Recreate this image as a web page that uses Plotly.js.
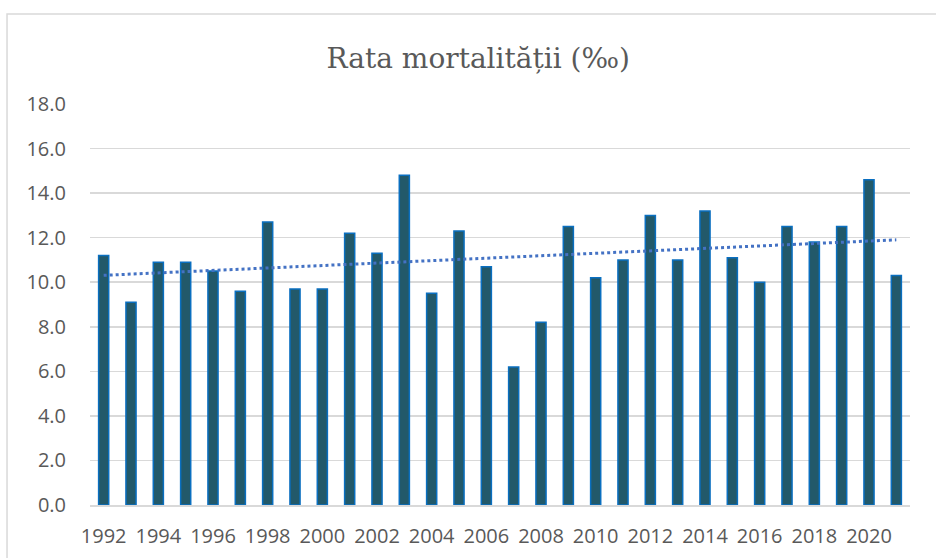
<!DOCTYPE html>
<html>
<head>
<meta charset="utf-8">
<script src="https://cdn.plot.ly/plotly-3.0.1.min.js"></script>
<style>
html,body{margin:0;padding:0;background:#fff;}
#chart{width:936px;height:558px;}
</style>
</head>
<body>
<div id="chart"></div>
<script>
var years = [1992,1993,1994,1995,1996,1997,1998,1999,2000,2001,2002,2003,2004,2005,2006,2007,2008,2009,2010,2011,2012,2013,2014,2015,2016,2017,2018,2019,2020,2021];
var rates = [11.2,9.1,10.9,10.9,10.5,9.6,12.7,9.7,9.7,12.2,11.3,14.8,9.5,12.3,10.7,6.2,8.2,12.5,10.2,11.0,13.0,11.0,13.2,11.1,10.0,12.5,11.8,12.5,14.6,10.3];
var tickYears = [1992,1994,1996,1998,2000,2002,2004,2006,2008,2010,2012,2014,2016,2018,2020];
var titleText = "Rata mortalității (‰)";

// linear trendline (least squares), as the spreadsheet draws it
var n = years.length, sx=0, sy=0, sxx=0, sxy=0;
for (var i=0;i<n;i++){ sx+=years[i]; sy+=rates[i]; sxx+=years[i]*years[i]; sxy+=years[i]*rates[i]; }
var slope = (n*sxy - sx*sy)/(n*sxx - sx*sx);
var icpt = (sy - slope*sx)/n;
var trendX = [years[0], years[n-1]];
var trendY = trendX.map(function(x){ return icpt + slope*x; });

var bars = {
  type:'bar', x: years, y: rates,
  marker:{color:'#22596A', line:{color:'#0A6FC0', width:1.5}},
  hoverinfo:'x+y', showlegend:false
};
var trend = {
  type:'scatter', mode:'lines', x: trendX, y: trendY,
  line:{color:'#4472C4', width:3, dash:'dot'},
  hoverinfo:'skip', showlegend:false
};

var layout = {
  width:936, height:558,
  margin:{l:90, r:26, t:104, b:53},
  paper_bgcolor:'#fff', plot_bgcolor:'#fff',
  bargap:0.63,
  title:{text:titleText, x:0.511, xanchor:'center', y:0.895, yanchor:'middle',
         font:{family:'DejaVu Serif', size:28, color:'#595959'}},
  xaxis:{
    range:[1991.5, 2021.5], tickmode:'array', tickvals:tickYears, ticktext:tickYears.map(String),
    showgrid:false, zeroline:false, showline:true, linecolor:'#D9D9D9', linewidth:1.5,
    ticks:'outside', ticklen:12, tickcolor:'rgba(0,0,0,0)',
    tickfont:{family:'Open Sans', size:20, color:'#595959'}
  },
  yaxis:{
    range:[0,18], dtick:2, tick0:0, tickformat:'.1f',
    showgrid:true, gridcolor:'#D9D9D9', gridwidth:1.5, zeroline:false, showline:false,
    ticks:'outside', ticklen:19, tickcolor:'rgba(0,0,0,0)',
    tickfont:{family:'Open Sans', size:20, color:'#595959'}
  },
  shapes:[{type:'rect', xref:'paper', yref:'paper', x0:-0.1012, x1:1.06, y0:-0.16, y1:1.2244,
           line:{color:'#D9D9D9', width:1.5}, fillcolor:'rgba(0,0,0,0)', layer:'below'}]
};

Plotly.newPlot('chart', [bars, trend], layout, {displayModeBar:false, staticPlot:true});
</script>
</body>
</html>
